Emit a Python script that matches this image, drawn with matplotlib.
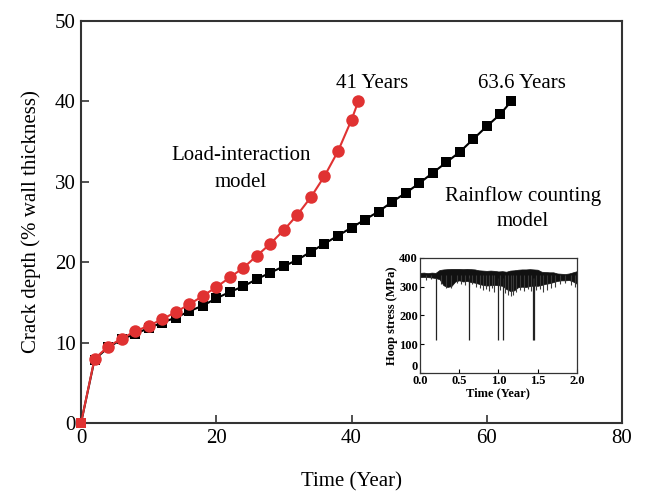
import matplotlib
matplotlib.use("Agg")
import matplotlib.pyplot as plt
import numpy as np

plt.rcParams['font.family'] = ['Liberation Serif', 'DejaVu Serif']

# Load-interaction model (red circles)
li_time = [0, 2, 4, 6, 8, 10, 12, 14, 16, 18, 20, 22, 24, 26, 28, 30, 32, 34, 36, 38, 40, 41]
li_depth = [0, 8.0, 9.5, 10.5, 11.4, 12.1, 12.9, 13.8, 14.75, 15.8, 16.9, 18.1, 19.3, 20.8,
            22.3, 24.0, 25.9, 28.1, 30.7, 33.8, 37.7, 40.0]

# Rainflow counting model (black squares)
rf_time = [0, 2, 4, 6, 8, 10, 12, 14, 16, 18, 20, 22, 24, 26, 28, 30, 32, 34, 36, 38, 40,
           42, 44, 46, 48, 50, 52, 54, 56, 58, 60, 62, 63.6]
rf_depth = [0, 7.9, 9.4, 10.4, 11.1, 11.8, 12.5, 13.1, 13.9, 14.6, 15.5, 16.3, 17.0, 17.9,
            18.7, 19.5, 20.3, 21.3, 22.3, 23.3, 24.3, 25.3, 26.3, 27.5, 28.6, 29.8, 31.1,
            32.4, 33.7, 35.3, 36.9, 38.4, 40.0]

x_ticks = [0, 20, 40, 60, 80]
y_ticks = [0, 10, 20, 30, 40, 50]

# Inset: hoop stress history, read as the envelope of the dense band,
# individual downward excursions and the deep drop spikes
hs_time = [0.00, 0.05, 0.10, 0.15, 0.20, 0.25, 0.30, 0.35, 0.40, 0.45, 0.50, 0.55, 0.60,
           0.65, 0.70, 0.75, 0.80, 0.85, 0.90, 0.95, 1.00, 1.05, 1.10, 1.15, 1.20, 1.25,
           1.30, 1.35, 1.40, 1.45, 1.50, 1.55, 1.60, 1.65, 1.70, 1.75, 1.80, 1.85, 1.90,
           1.95, 2.00]
hs_upper = [348, 349, 347, 349, 348, 358, 360, 361, 362, 362, 362, 361, 362, 361, 360, 357,
            356, 355, 356, 355, 353, 354, 352, 356, 357, 359, 360, 360, 361, 360, 359, 352,
            351, 350, 350, 346, 345, 344, 346, 350, 354]
hs_lower = [333, 334, 333, 332, 330, 326, 305, 299, 302, 318, 322, 318, 320, 316, 314, 310,
            306, 304, 305, 306, 305, 303, 292, 285, 287, 298, 300, 299, 302, 304, 303, 306,
            310, 312, 316, 320, 322, 322, 323, 318, 310]
dip_time = [0.08, 0.14, 0.27, 0.33, 0.40, 0.47, 0.52, 0.57, 0.62, 0.66, 0.72, 0.76, 0.80,
            0.84, 0.88, 0.92, 0.95, 1.02, 1.08, 1.12, 1.16, 1.19, 1.23, 1.28, 1.33, 1.38,
            1.42, 1.48, 1.53, 1.57, 1.62, 1.67, 1.72, 1.78, 1.85, 1.92, 1.98]
dip_low = [322, 325, 310, 297, 296, 312, 310, 305, 300, 308, 300, 296, 290, 293, 285, 295,
           282, 290, 278, 270, 266, 272, 283, 288, 286, 292, 285, 290, 293, 280, 290, 296,
           300, 308, 312, 305, 300]
spike_time = [0.21, 0.63, 0.99, 1.06, 1.44, 1.45]
spike_low = [115, 115, 115, 115, 115, 115]
inset_x_ticks = [0.0, 0.5, 1.0, 1.5, 2.0]
inset_y_ticks = [0, 100, 200, 300, 400]

red = '#e03232'
spine_col = '#333333'

fig = plt.figure(figsize=(6.46, 4.96), dpi=100)
ax = fig.add_axes([0.1254, 0.147, 0.963 - 0.1254, 0.958 - 0.147])

ax.plot(rf_time, rf_depth, color='black', lw=1.5, marker='s', markersize=7.2,
        markeredgewidth=0, zorder=3)
ax.plot(li_time, li_depth, color=red, lw=1.5, marker='o', markersize=9,
        markeredgewidth=0, markevery=slice(1, None), zorder=4)
ax.plot(li_time[:1], li_depth[:1], color=red, marker='s', markersize=7.2,
        markeredgewidth=0, linestyle='none', zorder=5, clip_on=False)

ax.set_xlim(0, 80)
ax.set_ylim(0, 50)
ax.set_xticks(x_ticks)
ax.set_yticks(y_ticks)
ax.tick_params(direction='in', length=6, width=1.2, labelsize=15, color=spine_col,
               top=False, right=False, pad=4)
for s in ax.spines.values():
    s.set_linewidth(1.5)
    s.set_color(spine_col)
ax.set_xlabel('Time (Year)', fontsize=15, labelpad=18)
ax.set_ylabel('Crack depth (% wall thickness)', fontsize=15, labelpad=10)

ax.text(43.0, 42.2, '41 Years', fontsize=15, ha='center', va='center')
ax.text(65.2, 42.2, '63.6 Years', fontsize=15, ha='center', va='center')
ax.text(23.6, 31.6, 'Load-interaction\nmodel', fontsize=15, ha='center', va='center',
        linespacing=1.55)
ax.text(65.3, 26.7, 'Rainflow counting\nmodel', fontsize=15, ha='center', va='center',
        linespacing=1.45)

# Inset
ia = fig.add_axes([0.650, 0.248, 0.243, 0.232])
ia.vlines(dip_time, dip_low, [340] * len(dip_time), color='#3a3a3a', lw=0.8)
ia.vlines(spike_time, spike_low, [330] * len(spike_time), color='#222222', lw=0.9)
ia.fill_between(hs_time, hs_lower, hs_upper, color='#111111', lw=0.5, edgecolor='#111111')
ia.set_xlim(0, 2.0)
ia.set_ylim(0, 400)
ia.set_xticks(inset_x_ticks)
ia.set_yticks(inset_y_ticks)
ia.set_xticklabels(['%.1f' % v for v in inset_x_ticks])
ia.tick_params(direction='in', length=3, width=0.8, labelsize=9, top=False, right=False,
               pad=1.5)
for lab in ia.get_xticklabels() + ia.get_yticklabels():
    lab.set_fontweight('bold')
ia.get_yticklabels()[0].set_va('bottom')
for s in ia.spines.values():
    s.set_linewidth(0.9)
    s.set_color(spine_col)
ia.set_xlabel('Time (Year)', fontsize=9, fontweight='bold', labelpad=0)
ia.set_ylabel('Hoop stress (MPa)', fontsize=9, fontweight='bold', labelpad=1)

fig.savefig('out.png', dpi=100)
